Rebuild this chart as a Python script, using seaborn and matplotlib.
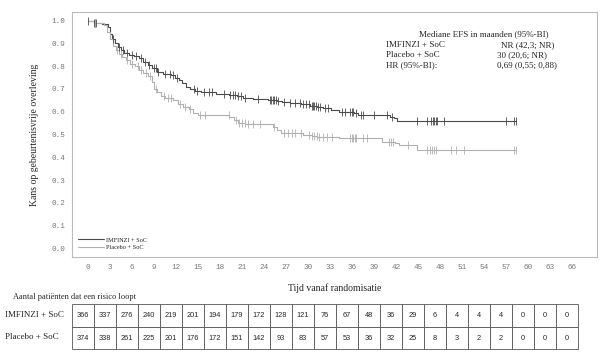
import numpy as np
import pandas as pd
import seaborn as sns
import matplotlib.pyplot as plt

# Kaplan-Meier step data (months, survival)
imf_t = [0, 0.9, 2.0, 2.7, 3.0, 3.3, 3.7, 4.1, 4.5, 5.0, 5.6, 6.3, 7.0, 7.6, 8.2, 8.8, 9.5, 10.2,
         11.4, 11.9, 12.4, 12.9, 13.4, 14.0, 14.6, 15.4, 17.5, 19.3, 20.3, 21.2, 22.5, 24.6, 25.8,
         26.5, 27.5, 29.0, 30.3, 31.2, 32.0, 33.2, 34.3, 36.3, 36.9, 41.2, 41.8, 42.2, 58.4]
imf_s = [1.0, 0.99, 0.985, 0.97, 0.94, 0.92, 0.90, 0.885, 0.87, 0.86, 0.85, 0.845, 0.835, 0.82,
         0.805, 0.79, 0.775, 0.765, 0.76, 0.75, 0.74, 0.725, 0.71, 0.70, 0.69, 0.685, 0.68, 0.675,
         0.668, 0.662, 0.656, 0.652, 0.646, 0.642, 0.637, 0.632, 0.625, 0.62, 0.615, 0.608, 0.60,
         0.593, 0.587, 0.578, 0.571, 0.56, 0.56]
pla_t = [0, 0.9, 2.2, 2.6, 3.0, 3.4, 3.8, 4.2, 4.7, 5.2, 5.8, 6.4, 7.0, 7.6, 8.2, 8.7, 9.0, 9.4,
         10.0, 10.6, 11.6, 12.3, 13.0, 13.8, 14.4, 15.0, 19.3, 19.9, 20.5, 21.5, 25.3, 25.8, 26.3,
         29.3, 30.6, 31.3, 34.2, 40.1, 41.9, 42.4, 44.9, 58.4]
pla_s = [1.0, 0.99, 0.98, 0.95, 0.92, 0.89, 0.87, 0.855, 0.84, 0.825, 0.81, 0.80, 0.785, 0.77,
         0.755, 0.73, 0.70, 0.685, 0.67, 0.66, 0.65, 0.635, 0.62, 0.61, 0.595, 0.585, 0.575,
         0.562, 0.552, 0.546, 0.535, 0.52, 0.506, 0.499, 0.494, 0.49, 0.485, 0.469, 0.462, 0.452,
         0.433, 0.433]

# censored observations (months)
imf_cens = [0.1, 0.9, 1.0, 1.1, 3.5, 4.2, 4.8, 5.3, 6.0, 6.6, 7.2, 7.8, 8.4, 9.0, 9.3, 9.6, 10.5,
            11.2, 11.6, 12.2, 14.5, 14.9, 15.8, 16.5, 17.0, 18.6, 19.4, 19.8, 20.1, 20.5, 20.9,
            21.5, 23.2, 24.8, 25.0, 25.2, 25.4, 25.6, 25.9, 26.8, 27.6, 28.3, 28.9, 29.4, 29.8,
            30.2, 30.5, 30.7, 30.9, 31.1, 31.4, 31.6, 32.3, 32.8, 34.6, 35.0, 35.8, 36.0, 36.1,
            36.6, 37.2, 37.5, 39.0, 40.8, 41.5, 44.9, 46.3, 46.8, 47.0, 47.2, 47.4, 47.6, 48.6,
            57.0, 58.1, 58.3]
pla_cens = [1.0, 4.0, 4.6, 5.4, 6.1, 6.8, 7.3, 8.0, 8.5, 9.3, 10.4, 11.0, 11.4, 12.6, 13.2, 13.9,
            15.3, 16.0, 19.2, 20.2, 20.6, 21.0, 21.4, 21.8, 22.5, 23.5, 25.4, 26.8, 27.3, 27.9,
            28.3, 29.0, 30.2, 30.6, 30.9, 31.2, 31.5, 32.0, 32.6, 33.3, 35.8, 36.0, 36.2, 36.4,
            36.6, 37.5, 38.1, 41.0, 41.3, 41.6, 43.6, 46.3, 46.6, 46.9, 47.2, 47.5, 49.5, 50.2,
            51.3, 58.1, 58.3]

groups = ["IMFINZI + SoC", "Placebo + SoC"]
x_ticks = list(range(0, 67, 3))
imf_risk = [366, 337, 276, 240, 219, 201, 194, 179, 172, 128, 121, 76, 67, 48, 36, 29, 6, 4, 4, 4, 0, 0, 0]
pla_risk = [374, 338, 261, 225, 201, 176, 172, 151, 142, 93, 83, 57, 53, 36, 32, 25, 8, 3, 2, 2, 0, 0, 0]

sns.set_style("white")
plt.rcParams["font.family"] = ["Liberation Serif", "DejaVu Serif"]

W, H = 606, 352
fig = plt.figure(figsize=(W / 100, H / 100), dpi=100)
ax = fig.add_axes([72 / W, 1 - 257 / H, (597 - 72) / W, (257 - 12) / H])

cols = {"IMFINZI + SoC": "#4a4a4a", "Placebo + SoC": "#b0b0b0"}
curves = {"IMFINZI + SoC": (imf_t, imf_s, imf_cens), "Placebo + SoC": (pla_t, pla_s, pla_cens)}

for g in groups:
    t, s, c = curves[g]
    sns.lineplot(x=t, y=s, drawstyle="steps-post", estimator=None, color=cols[g],
                 lw=0.8, ax=ax, label=g)
    idx = np.searchsorted(t, c, side="right") - 1
    cy = np.array(s)[idx]
    ax.scatter(c, cy, marker="|", s=26, linewidths=0.6, color=cols[g], zorder=3)

ax.set_xlim(-2.14, 69.4)
ax.set_ylim(-0.038, 1.038)
ax.set_xticks(x_ticks)
ax.set_yticks(np.arange(0, 1.01, 0.1))
ax.set_yticklabels([f"{v:.1f}" for v in np.arange(0, 1.01, 0.1)])
for lab in ax.get_xticklabels() + ax.get_yticklabels():
    lab.set_family("Liberation Mono")
    lab.set_fontsize(5.5)
    lab.set_color("#777777")
ax.tick_params(axis="both", direction="out", length=3, width=0.6, color="#999999", pad=2)
for sp in ax.spines.values():
    sp.set_color("#bbbbbb")
    sp.set_linewidth(0.8)

ax.set_ylabel("Kans op gebeurtenisvrije overleving", fontsize=7, labelpad=9)
ax.set_xlabel("Tijd vanaf randomisatie", fontsize=7, labelpad=9)

leg = ax.legend(loc="lower left", bbox_to_anchor=(0.005, 0.015), frameon=False, fontsize=4.5,
                handlelength=4.2, handletextpad=0.4, labelspacing=0.35, borderpad=0)

# median EFS box
fs = 6.5
fig.text(484 / W, 1 - 34 / H, "Mediane EFS in maanden (95%-BI)", ha="center", va="center", fontsize=fs)
rows = [("IMFINZI + SoC", "NR (42,3; NR)", 501), ("Placebo + SoC", "30 (20,6; NR)", 497),
        ("HR (95%-BI):", "0,69 (0,55; 0,88)", 497)]
for i, (lft, rgt, xr) in enumerate(rows):
    yy = 1 - (45 + i * 10) / H
    fig.text(386 / W, yy, lft, ha="left", va="center", fontsize=fs)
    fig.text(xr / W, yy, rgt, ha="left", va="center", fontsize=fs)

# number at risk table
fig.text(13 / W, 1 - 297 / H, "Aantal patiënten dat een risico loopt", ha="left", va="center", fontsize=6)
fig.text(5 / W, 1 - 315 / H, groups[0], ha="left", va="center", fontsize=6.5)
fig.text(5 / W, 1 - 337 / H, groups[1], ha="left", va="center", fontsize=6.5)

ax_t = fig.add_axes([71.7 / W, 1 - 349.3 / H, (577.7 - 71.7) / W, (349.3 - 304.3) / H])
ax_t.axis("off")
tab = ax_t.table(cellText=[[str(v) for v in imf_risk], [str(v) for v in pla_risk]],
                 bbox=[0, 0, 1, 1], cellLoc="center")
tab.auto_set_font_size(False)
for cell in tab.get_celld().values():
    cell.set_edgecolor("#555555")
    cell.set_linewidth(0.6)
    cell.get_text().set_fontsize(5.3)
    cell.get_text().set_family("Liberation Sans")

fig.savefig("out.png", dpi=100)
